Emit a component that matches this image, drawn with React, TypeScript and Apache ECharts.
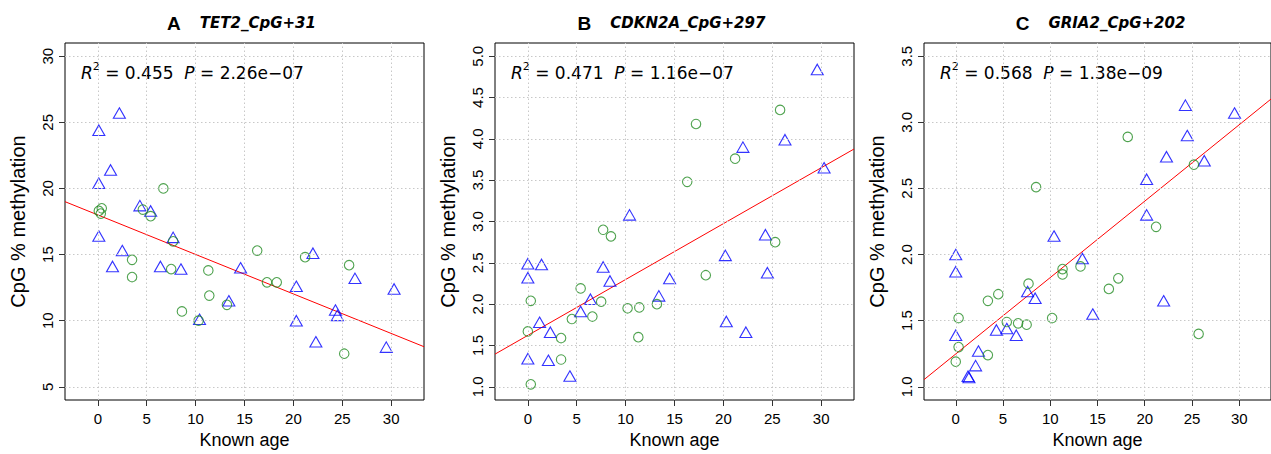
import React, { useEffect, useRef } from "react";
import * as echarts from "echarts";

// ---------- data ----------
const X_TICKS = [0, 5, 10, 15, 20, 25, 30];
const Y_TICKS_A = [5, 10, 15, 20, 25, 30];
const Y_TICKS_B = [1.0, 1.5, 2.0, 2.5, 3.0, 3.5, 4.0, 4.5, 5.0];
const Y_TICKS_C = [1.0, 1.5, 2.0, 2.5, 3.0, 3.5];

const PANEL_LETTERS = ["A", "B", "C"];
const PANEL_GENES = ["TET2_CpG+31", "CDKN2A_CpG+297", "GRIA2_CpG+202"];
const R2_VALUES = ["0.455", "0.471", "0.568"];
const P_VALUES = ["2.26e\u221207", "1.16e\u221207", "1.38e\u221209"];

// Panel A — triangles
const ageTriA = [2.2, 0.1, 1.3, 0.1, 4.3, 5.4, 0.1, 7.7, 2.5, 1.5, 6.4, 8.5, 14.6, 13.4, 10.4, 20.3, 22.0, 20.3, 22.3, 24.3, 24.5, 26.3, 30.3, 29.5];
const methTriA = [25.7, 24.4, 21.4, 20.4, 18.7, 18.3, 16.4, 16.3, 15.3, 14.1, 14.1, 13.9, 14.0, 11.5, 10.1, 12.6, 15.1, 10.0, 8.4, 10.8, 10.4, 13.2, 12.4, 8.0];
// Panel A — circles
const ageCirA = [0.1, 0.4, 0.3, 6.7, 4.6, 5.4, 7.7, 3.5, 3.5, 7.5, 11.3, 11.4, 8.6, 10.3, 13.2, 16.3, 17.3, 18.3, 21.2, 25.7, 25.2];
const methCirA = [18.3, 18.5, 18.1, 20.0, 18.4, 17.9, 16.0, 14.6, 13.3, 13.9, 13.8, 11.9, 10.7, 10.0, 11.2, 15.3, 12.9, 12.9, 14.8, 14.2, 7.5];

// Panel B — triangles
const ageTriB = [29.6, 26.3, 22.0, 30.3, 10.4, 24.3, 20.2, 24.5, 0.0, 1.4, 0.0, 7.7, 8.4, 14.5, 13.4, 6.4, 5.4, 1.2, 2.3, 0.0, 2.1, 4.3, 20.3, 22.3];
const methTriB = [4.84, 3.99, 3.90, 3.65, 3.08, 2.84, 2.59, 2.38, 2.49, 2.48, 2.32, 2.45, 2.28, 2.31, 2.10, 2.06, 1.91, 1.78, 1.66, 1.34, 1.32, 1.13, 1.79, 1.66];
// Panel B — circles
const ageCirB = [25.8, 17.2, 21.2, 16.3, 7.7, 8.5, 25.3, 18.2, 5.4, 0.3, 7.5, 10.2, 11.4, 13.2, 6.6, 4.5, 0.0, 3.4, 11.3, 3.4, 0.3];
const methCirB = [4.35, 4.18, 3.76, 3.48, 2.90, 2.82, 2.75, 2.35, 2.19, 2.04, 2.03, 1.95, 1.96, 2.00, 1.85, 1.82, 1.67, 1.59, 1.60, 1.33, 1.03];

// Panel C — triangles
const ageTriC = [24.3, 29.5, 24.5, 22.3, 26.3, 20.2, 20.2, 10.4, 0.0, 0.0, 13.4, 7.6, 8.4, 22.0, 14.5, 4.3, 5.4, 0.0, 6.4, 2.4, 2.1, 1.3, 1.4];
const methTriC = [3.13, 3.07, 2.90, 2.74, 2.71, 2.57, 2.30, 2.14, 2.00, 1.87, 1.97, 1.72, 1.67, 1.65, 1.55, 1.43, 1.44, 1.39, 1.39, 1.27, 1.16, 1.08, 1.07];
// Panel C — circles
const ageCirC = [18.2, 25.2, 8.5, 21.2, 11.3, 11.3, 13.2, 17.2, 16.2, 7.7, 4.5, 3.4, 0.3, 10.2, 5.4, 6.6, 7.5, 25.7, 0.3, 3.4, 0.0];
const methCirC = [2.89, 2.68, 2.51, 2.21, 1.89, 1.85, 1.91, 1.82, 1.74, 1.78, 1.70, 1.65, 1.52, 1.52, 1.49, 1.48, 1.47, 1.40, 1.30, 1.24, 1.19];

// Fitted regression lines (end points read at the plot edges)
const fitAgeEnds = [-3.36, 33.36];
const fitMethA = [19.0, 8.03];
const fitMethB = [1.395, 3.877];
const fitMethC = [1.054, 3.176];

// ---------- layout ----------
const X_MIN = -3.36;
const X_MAX = 33.36;
const Y_RANGES = [
  [4, 31],
  [0.84, 5.16],
  [0.9, 3.6],
];
const GRID_LEFTS = [65, 495, 924];
const GRID_TOP = 43;
const GRID_SIZE = 359;

const SANS = "Liberation Sans";
const DEJAVU = "DejaVu Sans";
const BLUE = "#0000FF";
const GREEN = "#228B22";

const zip = (xs: number[], ys: number[]) => xs.map((x, i) => [x, ys[i]]);

export default function App() {
  const ref = useRef<HTMLDivElement>(null);

  useEffect(() => {
    if (!ref.current) return;
    const chart = echarts.init(ref.current, undefined, { renderer: "svg" });

    const tri = [zip(ageTriA, methTriA), zip(ageTriB, methTriB), zip(ageTriC, methTriC)];
    const cir = [zip(ageCirA, methCirA), zip(ageCirB, methCirB), zip(ageCirC, methCirC)];
    const fits = [zip(fitAgeEnds, fitMethA), zip(fitAgeEnds, fitMethB), zip(fitAgeEnds, fitMethC)];
    const yTicks = [Y_TICKS_A, Y_TICKS_B, Y_TICKS_C];

    const grids = GRID_LEFTS.map((left) => ({
      left,
      top: GRID_TOP,
      width: GRID_SIZE,
      height: GRID_SIZE,
      show: true,
      borderColor: "#000",
      borderWidth: 1,
      backgroundColor: "transparent",
    }));

    const xAxes = [0, 1, 2].map((i) => ({
      gridIndex: i,
      type: "value",
      position: "bottom",
      min: X_MIN,
      max: X_MAX,
      name: "Known age",
      nameLocation: "middle",
      nameGap: 31,
      nameTextStyle: { fontFamily: SANS, fontSize: 18, color: "#000" },
      axisLine: { show: false, onZero: false },
      axisTick: { show: true, inside: false, customValues: X_TICKS, length: 6, lineStyle: { color: "#333", width: 1 } },
      axisLabel: { customValues: X_TICKS, fontFamily: SANS, fontSize: 15, color: "#000", margin: 11 },
      splitLine: { show: false },
    }));

    const yAxes = [0, 1, 2].map((i) => ({
      gridIndex: i,
      type: "value",
      position: "left",
      min: Y_RANGES[i][0],
      max: Y_RANGES[i][1],
      name: "CpG % methylation",
      nameLocation: "middle",
      nameRotate: 90,
      nameGap: 37,
      nameTextStyle: { fontFamily: SANS, fontSize: 20, color: "#000" },
      axisLine: { show: false, onZero: false },
      axisTick: { show: true, inside: false, customValues: yTicks[i], length: 6, lineStyle: { color: "#333", width: 1 } },
      axisLabel: {
        customValues: yTicks[i],
        rotate: 90,
        fontFamily: SANS,
        fontSize: 15,
        color: "#000",
        margin: 10,
        formatter: (v: number) => (i === 0 ? String(v) : v.toFixed(1)),
      },
      splitLine: { show: false },
    }));

    const series: any[] = [];
    [0, 1, 2].forEach((i) => {
      series.push({
        type: "line",
        xAxisIndex: i,
        yAxisIndex: i,
        data: fits[i],
        showSymbol: false,
        symbol: "none",
        z: 2,
        lineStyle: { color: "#FF0000", width: 1 },
        markLine: {
          silent: true,
          symbol: "none",
          animation: false,
          label: { show: false },
          lineStyle: { color: "#c8c8c8", type: [1.5, 2.5], width: 1 },
          data: [
            ...X_TICKS.map((v) => ({ xAxis: v })),
            ...yTicks[i].map((v) => ({ yAxis: v })),
          ],
        },
      });
      series.push({
        type: "scatter",
        xAxisIndex: i,
        yAxisIndex: i,
        data: tri[i],
        symbol: "triangle",
        symbolSize: [12, 10.5],
        z: 4,
        itemStyle: { color: "rgba(0,0,0,0)", borderColor: BLUE, borderWidth: 1.1 },
      });
      series.push({
        type: "scatter",
        xAxisIndex: i,
        yAxisIndex: i,
        data: cir[i],
        symbol: "circle",
        symbolSize: 9.5,
        z: 4,
        itemStyle: { color: "rgba(0,0,0,0)", borderColor: GREEN, borderWidth: 1.1 },
      });
    });

    const graphics: any[] = [];
    [0, 1, 2].forEach((i) => {
      const center = GRID_LEFTS[i] + GRID_SIZE / 2;
      graphics.push({
        type: "text",
        x: center - 3,
        y: 23,
        style: {
          text: `{l|${PANEL_LETTERS[i]}}{g|${PANEL_GENES[i]}}`,
          textAlign: "center",
          textVerticalAlign: "middle",
          verticalAlign: "middle",
          rich: {
            l: { fontFamily: SANS, fontWeight: "bold", fontSize: 19, fill: "#000", color: "#000", padding: [0, 19, 0, 0] },
            g: { fontFamily: DEJAVU, fontWeight: "bold", fontStyle: "italic", fontSize: 15, fill: "#000", color: "#000" },
          },
        },
      });
      graphics.push({
        type: "text",
        x: GRID_LEFTS[i] + 16,
        y: 71,
        style: {
          text: `{i|R}{s|2}{n| = ${R2_VALUES[i]}  }{i|P}{n| = ${P_VALUES[i]}}`,
          textAlign: "left",
          verticalAlign: "middle",
          textVerticalAlign: "middle",
          rich: {
            i: { fontFamily: DEJAVU, fontStyle: "italic", fontSize: 17, lineHeight: 20, verticalAlign: "bottom", fill: "#000", color: "#000" },
            n: { fontFamily: DEJAVU, fontSize: 17, lineHeight: 20, verticalAlign: "bottom", fill: "#000", color: "#000" },
            s: { fontFamily: DEJAVU, fontSize: 11, lineHeight: 11, verticalAlign: "top", fill: "#000", color: "#000" },
          },
        },
      });
    });

    chart.setOption({
      animation: false,
      backgroundColor: "#fff",
      grid: grids,
      xAxis: xAxes,
      yAxis: yAxes,
      series,
      graphic: graphics,
    });

    return () => chart.dispose();
  }, []);

  return (
    <div
      ref={ref}
      style={{ position: "fixed", left: 0, top: 0, width: 1271, height: 454, background: "#fff" }}
    />
  );
}
